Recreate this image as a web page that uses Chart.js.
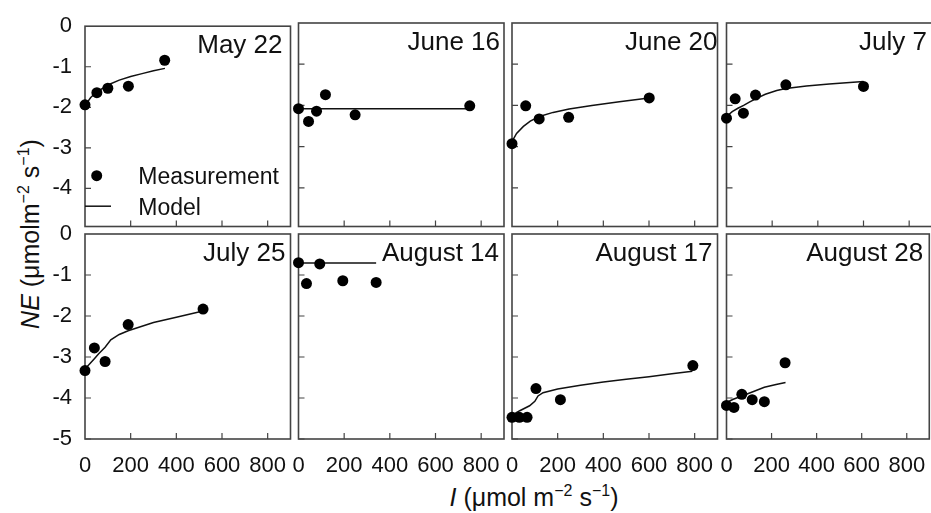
<!DOCTYPE html>
<html>
<head>
<meta charset="utf-8">
<script src="https://cdn.jsdelivr.net/npm/chart.js@4.4.1/dist/chart.umd.min.js"></script>
<style>
  html, body { margin:0; padding:0; }
  body { width:931px; height:513px; overflow:hidden; background:#fff; position:relative;
         font-family:"Liberation Sans", Arial, sans-serif; color:#111; }
  canvas { position:absolute; left:0; top:0; }
  .axt { position:absolute; white-space:nowrap; font-size:25px; line-height:25px; color:#111; }
  .axt sup { font-size:16px; line-height:0; position:relative; top:-1px; vertical-align:super; }
  #ytitle { left:30px; top:234px; transform:translate(-50%,-50%) rotate(-90deg); }
  #xtitle { left:534px; top:497px; transform:translate(-50%,-50%); }
</style>
</head>
<body>
<div id="ytitle" class="axt"><i>NE</i> (μmolm<sup>−2</sup> s<sup>−1</sup>)</div>
<div id="xtitle" class="axt"><i>I</i> (μmol m<sup>−2</sup> s<sup>−1</sup>)</div>
<script>
// ---------- data ----------
const panelTitles = ['May 22','June 16','June 20','July 7','July 25','August 14','August 17','August 28'];

// measured points: light intensity I and net exchange NE
const measI = [
  [0, 52, 100, 190, 349],
  [0, 44, 79, 118, 248, 750],
  [0, 60, 119, 248, 601],
  [0, 38, 74, 127, 260, 600],
  [0, 41, 88, 189, 517],
  [0, 35, 93, 194, 340],
  [0, 32, 66, 105, 212, 792],
  [0, 33, 68, 114, 168, 260]
];
const measNE = [
  [-1.94, -1.64, -1.53, -1.48, -0.84],
  [-2.08, -2.39, -2.14, -1.74, -2.23, -2.01],
  [-2.93, -2.01, -2.33, -2.29, -1.82],
  [-2.31, -1.84, -2.19, -1.75, -1.50, -1.54],
  [-3.33, -2.78, -3.11, -2.21, -1.83],
  [-0.70, -1.21, -0.73, -1.14, -1.18],
  [-4.47, -4.47, -4.47, -3.77, -4.04, -3.21],
  [-4.18, -4.23, -3.91, -4.04, -4.09, -3.14]
];
// model curves
const modelI = [
  [0, 25, 50, 100, 150, 200, 250, 300, 350],
  [0, 750],
  [0, 20, 50, 80, 120, 180, 250, 350, 470, 600],
  [0, 25, 50, 75, 100, 127, 170, 220, 260, 350, 450, 600],
  [0, 20, 41, 60, 88, 113, 150, 189, 300, 400, 517],
  [0, 340],
  [0, 34, 77, 100, 114, 136, 200, 300, 400, 500, 600, 700, 790],
  [0, 30, 68, 120, 168, 220, 262]
];
const modelNE = [
  [-1.96, -1.76, -1.63, -1.45, -1.33, -1.24, -1.17, -1.10, -1.04],
  [-2.08, -2.08],
  [-2.88, -2.68, -2.51, -2.38, -2.27, -2.17, -2.09, -2.00, -1.91, -1.82],
  [-2.27, -2.15, -2.07, -2.00, -1.92, -1.84, -1.73, -1.64, -1.59, -1.53, -1.48, -1.42],
  [-3.29, -3.17, -3.04, -2.92, -2.76, -2.58, -2.45, -2.36, -2.16, -2.03, -1.88],
  [-0.71, -0.71],
  [-4.42, -4.31, -4.19, -4.08, -3.95, -3.87, -3.78, -3.69, -3.61, -3.54, -3.48, -3.41, -3.35],
  [-4.11, -4.03, -3.95, -3.84, -3.74, -3.67, -3.62]
];
const xTicks = [0, 200, 400, 600, 800];
const yTicks = [0, -1, -2, -3, -4, -5];
const legendLabels = ['Measurement', 'Model'];

// ---------- layout ----------
const CW = 940, CH = 513;
const colLeft = [85, 298.5, 512, 726.5];
const colW = 205.5;
const rowTop = [23, 234];
const rowBottom = [226.5, 439];
const rowYMin = [-4.94, -5];
const titleGap = [8, 4, 0, 5, 5, 5, 5, 6];
const Y_AXIS_W = 60, X_AXIS_H = 45;
const FONT = '"Liberation Sans", Arial, sans-serif';
const INK = '#111';
const FRAME = '#444';

const framePlugin = {
  id: 'frame',
  beforeDatasetsDraw(chart) {
    const {ctx, chartArea: a, scales} = chart;
    ctx.save();
    ctx.strokeStyle = FRAME;
    ctx.lineWidth = 1.6;
    ctx.strokeRect(a.left, a.top, a.right - a.left, a.bottom - a.top);
    ctx.lineWidth = 1.2;
    ctx.beginPath();
    xTicks.forEach(v => {
      if (v === 0) return;
      const px = scales.x.getPixelForValue(v);
      ctx.moveTo(px, a.bottom); ctx.lineTo(px, a.bottom - 6);
    });
    yTicks.forEach(v => {
      if (v === 0 || v < scales.y.min) return;
      const py = scales.y.getPixelForValue(v);
      ctx.moveTo(a.left, py); ctx.lineTo(a.left + 6, py);
    });
    ctx.stroke();
    ctx.restore();
  },
  afterDraw(chart) {
    const {ctx, chartArea: a} = chart;
    const i = chart.options.plugins.frame.index;
    ctx.save();
    ctx.fillStyle = INK;
    ctx.font = '26px ' + FONT;
    ctx.textAlign = 'right';
    ctx.textBaseline = 'alphabetic';
    ctx.fillText(panelTitles[i], a.right - titleGap[i], a.top + 27);
    if (i === 0) {
      const ds = chart.data.datasets;
      ctx.font = '23px ' + FONT;
      ctx.textAlign = 'left';
      ctx.beginPath();
      ctx.fillStyle = ds[1].pointBackgroundColor;
      ctx.arc(a.left + 11.7, a.top + 149.5, ds[1].pointRadius, 0, Math.PI * 2);
      ctx.fill();
      ctx.fillStyle = INK;
      ctx.fillText(legendLabels[0], a.left + 53.3, a.top + 157.5);
      ctx.beginPath();
      ctx.strokeStyle = ds[0].borderColor;
      ctx.lineWidth = ds[0].borderWidth;
      ctx.moveTo(a.left, a.top + 180);
      ctx.lineTo(a.left + 26, a.top + 180);
      ctx.stroke();
      ctx.fillText(legendLabels[1], a.left + 53.3, a.top + 189);
    }
    ctx.restore();
  }
};

for (let i = 0; i < 8; i++) {
  const col = i % 4, row = Math.floor(i / 4);
  const yW = col === 0 ? Y_AXIS_W : 0;
  const xH = row === 1 ? X_AXIS_H : 0;
  const cv = document.createElement('canvas');
  cv.width = CW; cv.height = CH;
  cv.style.width = CW + 'px'; cv.style.height = CH + 'px';
  document.body.appendChild(cv);

  const measured = measI[i].map((x, k) => ({x, y: measNE[i][k]}));
  const model = modelI[i].map((x, k) => ({x, y: modelNE[i][k]}));

  new Chart(cv, {
    type: 'scatter',
    data: {
      datasets: [
        { label: legendLabels[1], data: model, showLine: true, borderColor: '#111',
          borderWidth: 1.5, pointRadius: 0, tension: 0, clip: false, order: 2 },
        { label: legendLabels[0], data: measured, showLine: false, pointRadius: 5.5,
          pointBackgroundColor: '#000', pointBorderColor: '#000', pointBorderWidth: 0,
          clip: false, order: 1 }
      ]
    },
    options: {
      responsive: false, animation: false, devicePixelRatio: 1, events: [],
      layout: {
        autoPadding: false,
        padding: { left: colLeft[col] - yW, right: CW - (colLeft[col] + colW),
                   top: rowTop[row], bottom: CH - rowBottom[row] - xH }
      },
      plugins: { legend: { display: false }, tooltip: { enabled: false },
                 frame: { index: i } },
      scales: {
        x: {
          type: 'linear', position: 'bottom', min: 0, max: 900,
          grid: { display: false, drawTicks: false }, border: { display: false },
          afterBuildTicks(s) { s.ticks = xTicks.map(v => ({value: v})); },
          ticks: { display: row === 1, padding: 14, maxRotation: 0, autoSkip: false,
                   color: INK, font: { size: 22, family: FONT } },
          afterFit(s) { s.height = xH; }
        },
        y: {
          type: 'linear', position: 'left', min: rowYMin[row], max: 0,
          grid: { display: false, drawTicks: false }, border: { display: false },
          afterBuildTicks(s) { s.ticks = yTicks.filter(v => v >= s.min).map(v => ({value: v})); },
          ticks: { display: col === 0, padding: 13, autoSkip: false, color: INK,
                   font: { size: 22, family: FONT } },
          afterFit(s) { s.width = yW; }
        }
      }
    },
    plugins: [framePlugin]
  });
}
</script>
</body>
</html>
